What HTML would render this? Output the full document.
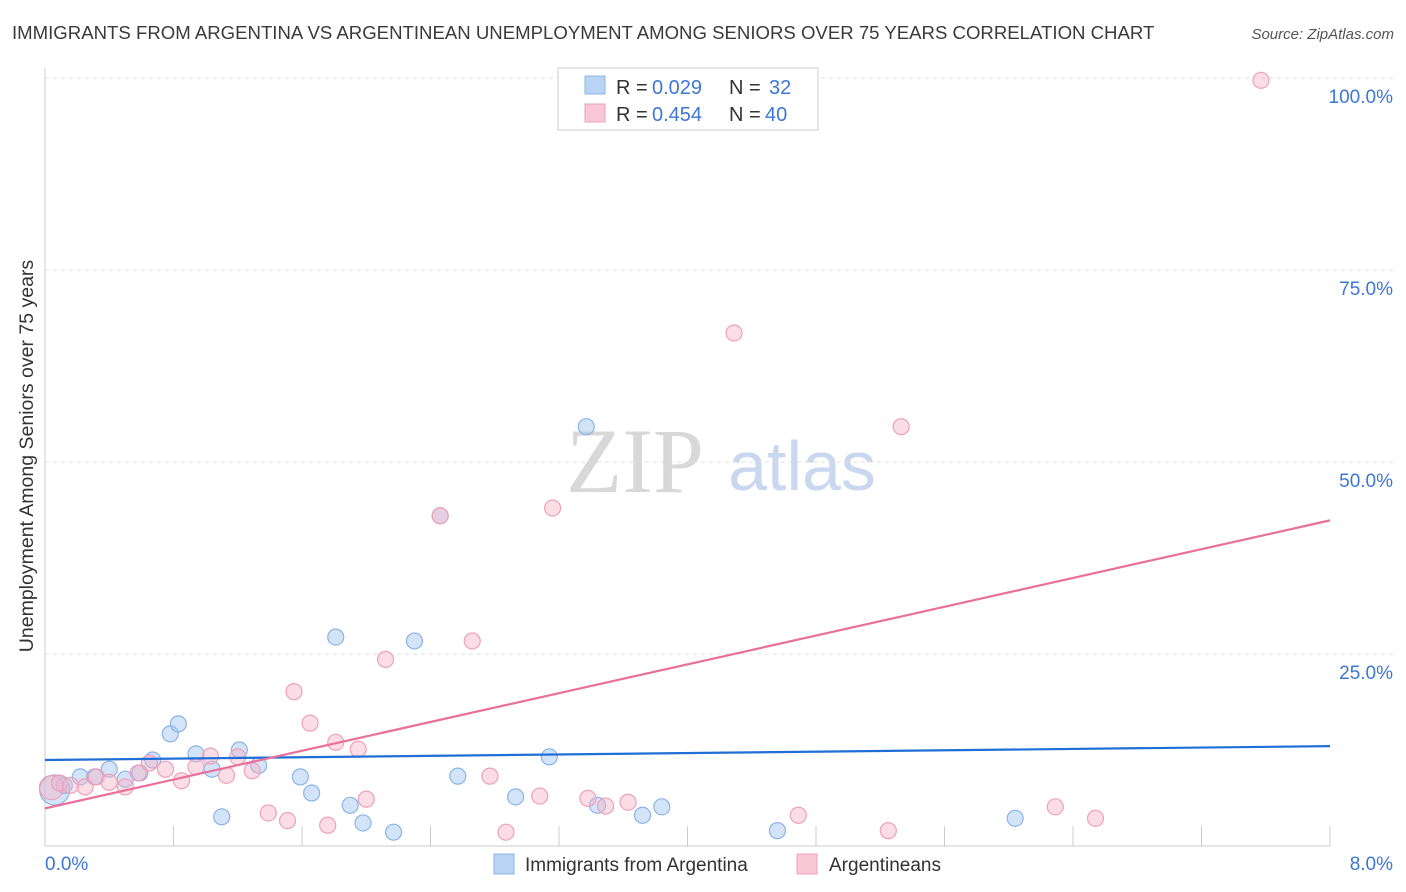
<!DOCTYPE html>
<html><head><meta charset="utf-8"><style>
body{margin:0;background:#fff;font-family:"Liberation Sans",sans-serif;}
#wrap{position:relative;width:1406px;height:892px;overflow:hidden;}
</style></head><body>
<div id="wrap">
<svg id="svg" width="1406" height="892" xmlns="http://www.w3.org/2000/svg">
<text x="12" y="39" font-size="18.6" fill="#3a3a3a">IMMIGRANTS FROM ARGENTINA VS ARGENTINEAN UNEMPLOYMENT AMONG SENIORS OVER 75 YEARS CORRELATION CHART</text>
<text x="1394" y="39" font-size="15" fill="#555" font-style="italic" text-anchor="end">Source: ZipAtlas.com</text>
<text x="635" y="492" font-size="92" fill="#d8d8d8" font-family="Liberation Serif,serif" text-anchor="middle">ZIP</text>
<text x="802" y="490" font-size="70" fill="#c9d8ef" text-anchor="middle">atlas</text>
<text transform="translate(33,456) rotate(-90)" font-size="19.5" fill="#333" text-anchor="middle">Unemployment Among Seniors over 75 years</text>
<g id="grid"></g>
<g id="marks"></g>
<g>
<rect x="558" y="68" width="260" height="62" fill="#fff" stroke="#ccc"/>
<rect x="585" y="76" width="20" height="18" fill="#b9d3f5" stroke="#8ab4e8"/>
<rect x="585" y="104" width="20" height="18" fill="#f8c8d6" stroke="#f0a0b8"/>
<text x="616" y="94" font-size="20" fill="#333">R =</text>
<text x="652" y="94" font-size="20" fill="#3d77d4">0.029</text>
<text x="729" y="94" font-size="20" fill="#333">N =</text>
<text x="769" y="94" font-size="20" fill="#3d77d4">32</text>
<text x="616" y="121" font-size="20" fill="#333">R =</text>
<text x="652" y="121" font-size="20" fill="#3d77d4">0.454</text>
<text x="729" y="121" font-size="20" fill="#333">N =</text>
<text x="765" y="121" font-size="20" fill="#3d77d4">40</text>
</g>
<g>
<rect x="494" y="854" width="20" height="20" fill="#b9d3f5" stroke="#8ab4e8"/>
<text x="525" y="871" font-size="19" fill="#333">Immigrants from Argentina</text>
<rect x="797" y="854" width="20" height="20" fill="#f8c8d6" stroke="#f0a0b8"/>
<text x="829" y="871" font-size="19" fill="#333">Argentineans</text>
</g>
</svg>
</div>
<script>
const yTicks=[0,25,50,75,100];
const yTickLabels=["","25.0%","50.0%","75.0%","100.0%"];
const xTickLabels=["0.0%","8.0%"];
const blueX=[0.06,0.12,0.22,0.31,0.40,0.50,0.59,0.67,0.78,0.83,0.94,1.04,1.10,1.21,1.33,1.59,1.66,1.81,1.90,1.98,2.17,2.30,2.46,2.57,2.93,3.14,3.37,3.44,3.72,3.84,4.56,6.04];
const blueY=[7.3,7.9,9.0,9.0,10.0,8.7,9.5,11.2,14.6,15.9,12.0,10.0,3.8,12.5,10.5,9.0,6.9,27.2,5.3,3.0,1.8,26.7,43.0,9.1,6.4,11.6,54.6,5.3,4.0,5.1,2.0,3.6];
const pinkX=[0.04,0.09,0.16,0.25,0.32,0.40,0.50,0.58,0.65,0.75,0.85,0.94,1.03,1.13,1.20,1.29,1.39,1.51,1.55,1.65,1.76,1.81,1.95,2.00,2.12,2.46,2.66,2.77,2.87,3.08,3.16,3.38,3.49,3.63,4.29,4.69,5.25,5.33,6.29,6.54,7.57];
const pinkY=[7.6,8.2,7.9,7.7,9.0,8.3,7.7,9.5,10.8,10.0,8.5,10.3,11.7,9.2,11.6,9.8,4.3,3.3,20.1,16.0,2.7,13.5,12.6,6.1,24.3,43.0,26.7,9.1,1.8,6.5,44.0,6.2,5.2,5.7,66.8,4.0,2.0,54.6,5.1,3.6,99.7];
const blueTrend=[11.2,13.0];
const pinkTrend=[4.9,42.4];
const NS="http://www.w3.org/2000/svg";
const sx=v=>45+v/8*1285, sy=v=>846-v/100*768;
function mk(t,a,p){const e=document.createElementNS(NS,t);for(const k in a)e.setAttribute(k,a[k]);p.appendChild(e);return e;}
const grid=document.getElementById('grid'),marks=document.getElementById('marks');
mk('line',{x1:45,y1:68,x2:45,y2:846,stroke:'#ccc'},grid);
mk('line',{x1:45,y1:846,x2:1330,y2:846,stroke:'#ccc'},grid);
yTicks.forEach((t,i)=>{if(t>0){const l=mk('line',{x1:45,y1:sy(t),x2:1395,y2:sy(t),stroke:'#ddd','stroke-dasharray':'4,4'},grid);


const tx=mk('text',{x:1393,y:sy(t)+25,'font-size':19,fill:'#3d77d4','text-anchor':'end'},grid);tx.textContent=yTickLabels[i];

}});
for(let i=1;i<=10;i++){const l=mk('line',{x1:sx(i*0.8),y1:826,x2:sx(i*0.8),y2:846,stroke:'#ccc'},grid);

}
[[0,'start',45],[8,'end',1393]].forEach((d,i)=>{const tx=mk('text',{x:d[2],y:870,'font-size':19,fill:'#3d77d4','text-anchor':d[1]},grid);tx.textContent=xTickLabels[i];

});
blueX.forEach((x,i)=>{const c=mk('circle',{cx:sx(x),cy:sy(blueY[i]),r:i==0?15:8,fill:'rgba(160,196,240,0.45)',stroke:'#8ab4e8','stroke-width':1.2},marks);

});
pinkX.forEach((x,i)=>{const c=mk('circle',{cx:sx(x),cy:sy(pinkY[i]),r:i==0?12:8,fill:'rgba(246,180,200,0.45)',stroke:'#f0a0b8','stroke-width':1.2},marks);

});
const bl=mk('line',{x1:sx(0),y1:sy(blueTrend[0]),x2:sx(8),y2:sy(blueTrend[1]),stroke:'#1f6fd6','stroke-width':2.2},marks);


const pl=mk('line',{x1:sx(0),y1:sy(pinkTrend[0]),x2:sx(8),y2:sy(pinkTrend[1]),stroke:'#e8709a','stroke-width':2.2},marks);


</script>
</body></html>
